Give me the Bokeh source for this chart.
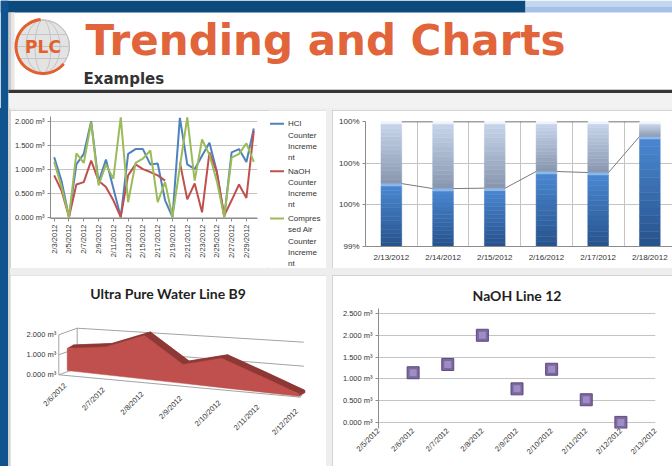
import textwrap
import numpy as np
from bokeh.plotting import figure
from bokeh.models import (Range1d, FixedTicker, NumeralTickFormatter, PrintfTickFormatter,
                          Spacer, ColumnDataSource)
from bokeh.layouts import row, column
from bokeh.embed import file_html
from bokeh.resources import INLINE
from bokeh.core.properties import value

# ---------------- data ----------------
trend_dates = ["2/3/2012", "2/4/2012", "2/5/2012", "2/6/2012", "2/7/2012", "2/8/2012", "2/9/2012",
               "2/10/2012", "2/11/2012", "2/12/2012", "2/13/2012", "2/14/2012", "2/15/2012",
               "2/16/2012", "2/17/2012", "2/18/2012", "2/19/2012", "2/20/2012", "2/21/2012",
               "2/22/2012", "2/23/2012", "2/24/2012", "2/25/2012", "2/26/2012", "2/27/2012",
               "2/28/2012", "2/29/2012", "3/1/2012"]
hcl_increment = [1.25, 0.75, 0.0, 1.1, 1.32, 2.0, 0.73, 1.2, 0.6, 0.0, 1.32, 1.42, 1.42, 1.1,
                 1.12, 0.35, 0.0, 2.07, 1.1, 1.0, 1.28, 1.55, 0.95, 0.0, 1.35, 1.42, 1.15, 1.85]
naoh_increment = [0.87, 0.55, 0.0, 0.68, 0.73, 1.18, 0.76, 0.63, 0.35, 0.0, 0.87, 1.1, 1.0, 0.94,
                  0.87, 0.76, None, 1.14, 0.37, 0.7, 0.1, 1.35, 0.94, 0.03, 0.35, 0.68, 0.4, 1.8]
air_increment = [1.15, 0.63, 0.0, 1.33, 1.13, 1.98, 0.66, 1.1, 0.8, 2.08, 0.31, 1.13, 1.22, 1.39,
                 0.31, 0.73, 0.0, 1.05, 2.08, 0.76, 1.62, 1.3, 0.75, 0.0, 1.24, 1.32, 1.54, 1.15]
trend_labels = ["HCl Counter Increment", "NaOH Counter Increment", "Compressed Air Counter Increment"]
trend_colors = ["#4f81bd", "#c0504d", "#9bbb59"]
trend_ticks = [0.0, 0.5, 1.0, 1.5, 2.0]

pct_dates = ["2/13/2012", "2/14/2012", "2/15/2012", "2/16/2012", "2/17/2012", "2/18/2012"]
pct_used = [0.99702, 0.99678, 0.99680, 0.99760, 0.99755, 0.99928]
pct_total = [1.0, 1.0, 1.0, 1.0, 1.0, 1.0]
pct_ticks = [0.994, 0.996, 0.998, 1.0]

upw_dates = ["2/6/2012", "2/7/2012", "2/8/2012", "2/9/2012", "2/10/2012", "2/11/2012", "2/12/2012"]
upw_values = [1.05, 1.3, 2.0, 0.85, 1.3, 0.7, 0.1]
upw_ticks = [0, 1, 2]

naoh12_axis_dates = ["2/5/2012", "2/6/2012", "2/7/2012", "2/8/2012", "2/9/2012", "2/10/2012",
                     "2/11/2012", "2/12/2012", "2/13/2012"]
naoh12_dates = ["2/6/2012", "2/7/2012", "2/8/2012", "2/9/2012", "2/10/2012", "2/11/2012", "2/12/2012"]
naoh12_values = [1.14, 1.33, 2.0, 0.77, 1.22, 0.52, 0.0]
naoh12_ticks = [0.0, 0.5, 1.0, 1.5, 2.0, 2.5]

# ---------------- helpers ----------------
FONT = "Liberation Sans"
TXT = "#333333"
GRID = "#c4c4c4"
AXIS = "#8c8c8c"
panel_style = {"outline": "1px solid #c6c6c6", "outline-offset": "-1px"}
gap_style = {"background-color": "#eeeeee"}


def mix(c1, c2, t):
    a = [int(c1[i:i + 2], 16) for i in (1, 3, 5)]
    b = [int(c2[i:i + 2], 16) for i in (1, 3, 5)]
    return "#%02x%02x%02x" % tuple(int(round(a[j] + (b[j] - a[j]) * t)) for j in range(3))


def deco(width, height, x0, y0):
    f = figure(width=width, height=height,
               x_range=Range1d(x0, x0 + width), y_range=Range1d(-(y0 + height), -y0),
               x_axis_type=None, y_axis_type=None, toolbar_location=None, output_backend="svg",
               min_border=0)
    f.outline_line_color = None
    f.background_fill_color = "white"
    f.border_fill_color = "white"
    return f


def style_axes(f, size="7.5px"):
    for ax in (f.xaxis[0], f.yaxis[0]):
        ax.axis_line_color = AXIS
        ax.major_tick_line_color = AXIS
        ax.minor_tick_line_color = None
        ax.major_tick_in = 0
        ax.major_tick_out = 3
        ax.major_label_standoff = 3
        ax.major_label_text_font = FONT
        ax.major_label_text_font_size = size
        ax.major_label_text_color = TXT
    f.outline_line_color = None
    f.background_fill_color = "white"
    f.border_fill_color = "white"


# ---------------- header ----------------
hdr = deco(672, 108, 0, 0)
hdr.quad(left=[0], right=[525], top=[0], bottom=[-12], fill_color="#0c4a7d", line_color=None)
hdr.quad(left=[525, 525], right=[672, 672], top=[0, -6], bottom=[-6, -12],
         fill_color=["#c3d7f1", "#a4c1e8"], line_color=None)
hdr.quad(left=[0], right=[8], top=[0], bottom=[-110], fill_color="#11538e", line_color=None)
hdr.quad(left=[8, 11], right=[11, 14], top=[-12, -12], bottom=[-89, -89],
         fill_color=["#c9c9c9", "#e6e6e6"], line_color=None)
hdr.quad(left=[8], right=[672], top=[-92.5], bottom=[-110], fill_color="#f2f2f2", line_color=None)
hdr.quad(left=[8], right=[672], top=[-89.2], bottom=[-92.5], fill_color="#363636", line_color=None)
# logo
hdr.circle(x=[42.5], y=[-46], radius=26.5, fill_color="#e3e3e3", line_color="#b5b5b5", line_width=1)
hdr.ellipse(x=[42.5, 42.5, 42.5], y=[-46, -46, -46], width=[16, 34, 53], height=[53, 53, 53],
            fill_color=None, line_color="#c4c4c4", line_width=1)
hdr.segment(x0=[19, 16, 19], y0=[-34, -46, -58], x1=[66, 69, 66], y1=[-34, -46, -58],
            line_color="#c4c4c4", line_width=1)
hdr.annular_wedge(x=[42.5], y=[-46], inner_radius=25.5, outer_radius=28.5,
                  start_angle=np.radians(95), end_angle=np.radians(320),
                  fill_color="#e2602e", line_color=None)
hdr.text(x=[42.5], y=[-46], text=["PLC"], text_align="center", text_baseline="middle",
         text_font=value("DejaVu Sans"), text_font_style="bold", text_font_size="17px",
         text_color="#e2602e")
hdr.text(x=[85], y=[-39.5], text=["Trending and Charts"], text_align="left",
         text_baseline="middle", text_font=value("DejaVu Sans"), text_font_style="bold",
         text_font_size="42px", text_color="#e2643a")
hdr.text(x=[83], y=[-78.5], text=["Examples"], text_align="left", text_baseline="middle",
         text_font=value("DejaVu Sans"), text_font_style="bold", text_font_size="15px",
         text_color="#333333")

# ---------------- top-left: trend lines ----------------
tl = figure(width=258, height=158, x_range=Range1d(-0.5, len(trend_dates) - 0.5),
            y_range=Range1d(-0.03, 2.1), toolbar_location=None, output_backend="svg",
            min_border_left=40, min_border_right=11, min_border_top=6, min_border_bottom=50)
style_axes(tl)
days = np.arange(len(trend_dates))
for vals, col in zip([hcl_increment, naoh_increment, air_increment], trend_colors):
    tl.line(x=days, y=np.array(vals, dtype=float), line_color=col, line_width=2)
tl.xgrid.visible = False
tl.ygrid.grid_line_color = GRID
tl.yaxis.ticker = FixedTicker(ticks=trend_ticks, minor_ticks=[])
tl.yaxis.formatter = PrintfTickFormatter(format="%.3f m³")
tl.xaxis.ticker = FixedTicker(ticks=list(range(0, len(trend_dates), 2)), minor_ticks=[])
tl.xaxis.major_label_overrides = {int(i): trend_dates[i] for i in range(0, len(trend_dates), 2)}
tl.xaxis.major_label_orientation = np.pi / 2

# legend for top-left
lg = deco(58, 158, 268, 110)
ly = 123.3
for label, col in zip(trend_labels, trend_colors):
    lines = textwrap.wrap(label, width=7, break_long_words=True)
    lg.segment(x0=[269.5], y0=[-ly], x1=[283.5], y1=[-ly], line_color=col, line_width=2)
    lg.text(x=[287.5] * len(lines), y=[-(ly + 11.2 * k) for k in range(len(lines))], text=lines,
            text_align="left", text_baseline="middle", text_font=value(FONT),
            text_font_size="8px", text_color=TXT)
    ly += 11.2 * len(lines) + 2.6

# ---------------- top-right: 100% stacked bars ----------------
ncat = len(pct_dates)
tr = figure(width=340, height=158, x_range=Range1d(-0.5, -0.5 + 307 / 51.7),
            y_range=Range1d(pct_ticks[0], pct_ticks[-1]), toolbar_location=None,
            output_backend="svg", min_border_left=33, min_border_right=0, min_border_top=11,
            min_border_bottom=22)
style_axes(tr, "8px")
tr.yaxis.ticker = FixedTicker(ticks=pct_ticks, minor_ticks=[])
tr.yaxis.formatter = NumeralTickFormatter(format="0%")
tr.xaxis.ticker = FixedTicker(ticks=list(range(ncat)), minor_ticks=[])
tr.xaxis.major_label_overrides = {i: d for i, d in enumerate(pct_dates)}
tr.xaxis.major_tick_out = 0
tr.xaxis.major_label_standoff = 6
tr.ygrid.grid_line_color = GRID
tr.xgrid.grid_line_color = GRID
tr.xgrid.ticker = FixedTicker(ticks=[i + 0.5 for i in range(ncat - 1)], minor_ticks=[])

pxv = (pct_ticks[-1] - pct_ticks[0]) / 125.0
bars = {"x": [], "b": [], "t": [], "c": []}


def add_grad(lo, hi, c_lo, c_hi, c_cap, n=14):
    for i in range(ncat):
        cap_lo = hi[i] - 2.5 * pxv
        edges = np.linspace(lo[i], cap_lo, n + 1)
        for k in range(n):
            bars["x"].append(i)
            bars["b"].append(edges[k])
            bars["t"].append(edges[k + 1])
            bars["c"].append(mix(c_lo, c_hi, (k + 0.5) / n))
        bars["x"].append(i)
        bars["b"].append(cap_lo)
        bars["t"].append(hi[i])
        bars["c"].append(c_cap)


add_grad([pct_ticks[0]] * ncat, pct_used, "#27528c", "#4a87d0", "#8bb9ec")
add_grad(pct_used, pct_total, "#8796ae", "#c7d5eb", "#eef3fb")
tr.vbar(x="x", bottom="b", top="t", width=0.4, fill_color="c", line_color="c", line_width=0.5,
        source=ColumnDataSource(bars))
xi = np.arange(ncat - 1)
tr.segment(x0=xi + 0.2, y0=pct_used[:-1], x1=xi + 0.8, y1=pct_used[1:], line_color="#7a7a7a",
           line_width=1)
tr.segment(x0=xi + 0.2, y0=pct_total[:-1], x1=xi + 0.8, y1=pct_total[1:], line_color="#454545",
           line_width=1.6)

# ---------------- bottom-left: 3D area ----------------
bl = deco(316, 191, 10, 275)
n = len(upw_values)
ci = np.arange(n)
vals = np.array(upw_values, dtype=float)
fx = 66.7 + ci * (298.3 - 66.7) / (n - 1)
fb = 370.0 + ci * (395.7 - 370.0) / (n - 1)
ft = fb - (21.0 + 0.4 * ci) * vals
ox, oy = 6.0, -3.5
tv = np.array(upw_ticks, dtype=float)
WALL = "#a3a3a3"
bl.segment(x0=76.7, y0=-(367.7 - 20 * tv), x1=303.3, y1=-(389.7 - 24 * tv), line_color=WALL)
bl.segment(x0=58.3, y0=-(374.3 - 20 * tv), x1=76.7, y1=-(367.7 - 20 * tv), line_color=WALL)
top_v = tv.max()
bl.segment(x0=[58.3, 76.7], y0=[-374.3, -367.7], x1=[58.3, 76.7],
           y1=[-(374.3 - 20 * top_v), -(367.7 - 20 * top_v)], line_color=WALL)
bl.segment(x0=[58.3, 300.0], y0=[-374.3, -396.7], x1=[300.0, 303.3], y1=[-396.7, -389.7],
           line_color=WALL)
DARK = "#8e3836"
bl.patch(x=np.concatenate([fx + ox, (fx + ox)[::-1]]),
         y=np.concatenate([-(ft + oy), -(fb + oy)[::-1]]), fill_color=DARK, line_color=DARK,
         line_width=0.5)
pxs = [[fx[i], fx[i + 1], fx[i + 1] + ox, fx[i] + ox] for i in range(n - 1)]
pys = [[-ft[i], -ft[i + 1], -(ft[i + 1] + oy), -(ft[i] + oy)] for i in range(n - 1)]
pxs.append([fx[-1], fx[-1], fx[-1] + ox, fx[-1] + ox])
pys.append([-ft[-1], -fb[-1], -(fb[-1] + oy), -(ft[-1] + oy)])
bl.patches(xs=pxs, ys=pys, fill_color=DARK, line_color=DARK, line_width=0.5)
bl.patch(x=np.concatenate([fx, fx[::-1]]), y=np.concatenate([-ft, -fb[::-1]]),
         fill_color="#c0504d", line_color="#c0504d", line_width=0.5)
bl.text(x=[55.7] * len(tv), y=-(374.3 - 20 * tv), text=["%.3f m³" % v for v in tv],
        text_align="right", text_baseline="middle", text_font=value(FONT),
        text_font_size="7.5px", text_color=TXT)
bl.text(x=fx - 2.0, y=-(fb + 13.8), text=upw_dates, angle=np.pi / 4, text_align="right",
        text_baseline="middle", text_font=value(FONT), text_font_size="7.5px", text_color=TXT)
bl.text(x=[167.7], y=[-293.3], text=["Ultra Pure Water Line B9"], text_align="center",
        text_baseline="middle", text_font=value("Lato"), text_font_style="bold",
        text_font_size="14px", text_color="#1f1f1f")

# ---------------- bottom-right: scatter ----------------
br = figure(width=340, height=191, x_range=Range1d(0, len(naoh12_axis_dates) - 1),
            y_range=Range1d(-0.14, naoh12_ticks[-1] + 5 / 43.6), toolbar_location=None,
            output_backend="svg", min_border_left=46, min_border_right=17, min_border_top=33,
            min_border_bottom=38, title="NaOH Line 12")
style_axes(br)
br.title.align = "center"
br.title.text_font = "Lato"
br.title.text_font_size = "14px"
br.title.text_font_style = "bold"
br.title.text_color = "#1f1f1f"
br.xgrid.visible = False
br.ygrid.grid_line_color = GRID
br.yaxis.ticker = FixedTicker(ticks=naoh12_ticks, minor_ticks=[])
br.yaxis.formatter = PrintfTickFormatter(format="%.3f m³")
br.xaxis.ticker = FixedTicker(ticks=list(range(len(naoh12_axis_dates))), minor_ticks=[])
br.xaxis.major_label_overrides = {i: d for i, d in enumerate(naoh12_axis_dates)}
br.xaxis.major_label_orientation = np.pi / 4
br.xaxis.axis_line_color = None
br.xaxis.major_tick_out = 0
br.xaxis.major_label_standoff = 1
bx = [naoh12_axis_dates.index(d) for d in naoh12_dates]
br.scatter(x=bx, y=naoh12_values, marker="square", size=12, fill_color="#7d67a2",
           line_color="#5d4b7c", line_width=1)
br.scatter(x=bx, y=naoh12_values, marker="square", size=7, fill_color="#9e8dc2",
           line_color=None)

# ---------------- layout (each plot wrapped so frames are not aligned) ----------------
def box(f, w, h, style=None):
    kw = {"styles": style} if style else {}
    return column(f, width=w, height=h, **kw)


tl_panel = row(box(tl, 258, 158), box(lg, 58, 158), styles=panel_style)
top_row = row(tl_panel, Spacer(width=6, height=158, styles=gap_style),
              box(tr, 340, 158, panel_style))
bottom_row = row(box(bl, 316, 191, panel_style), Spacer(width=6, height=191, styles=gap_style),
                 box(br, 340, 191, panel_style))
panels = column(Spacer(width=662, height=2, styles=gap_style), top_row,
                Spacer(width=662, height=7, styles=gap_style), bottom_row)
body = row(Spacer(width=8, height=358, styles={"background-color": "#11538e"}),
           Spacer(width=2, height=358, styles={"background-color": "#d2d2d2"}), panels)
layout = column(box(hdr, 672, 108), body)

open("out.html", "w").write(file_html(layout, INLINE))
